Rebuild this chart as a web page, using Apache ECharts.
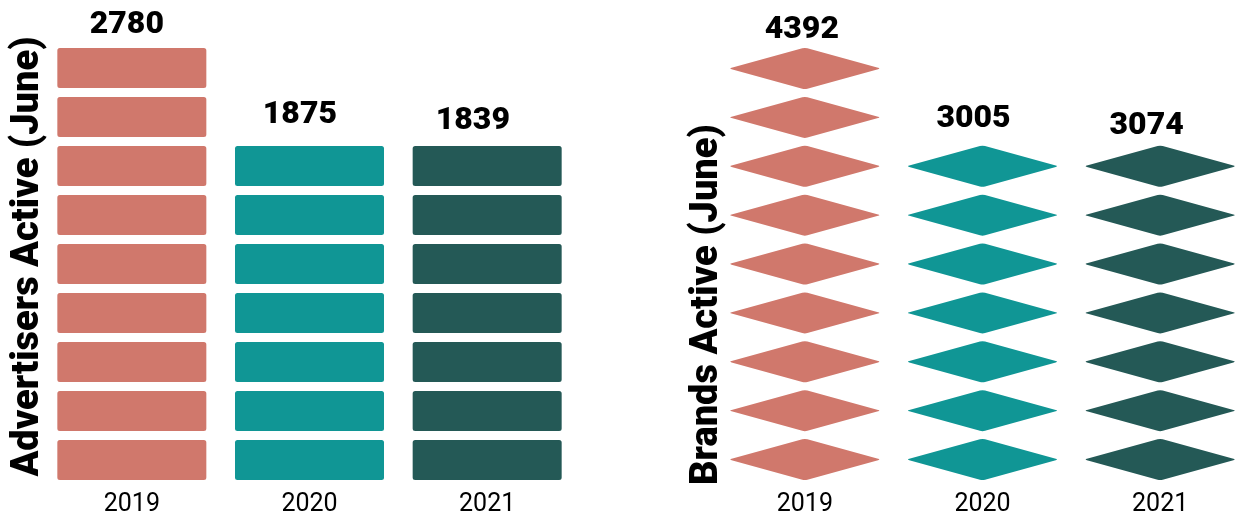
<!DOCTYPE html>
<html>
<head>
<meta charset="utf-8">
<script src="https://cdn.jsdelivr.net/npm/echarts@6/dist/echarts.min.js"></script>
<style>
  html, body { margin: 0; padding: 0; background: #fff; }
  #chart { width: 1238px; height: 515px; }
</style>
</head>
<body>
<div id="chart"></div>
<script>
// Yearly activity counts (June snapshots)
const years = ['2019', '2020', '2021'];
const advertisersActive = [2780, 1875, 1839];
const brandsActive = [4392, 3005, 3074];
const yearColors = ['#D0786C', '#109695', '#245956'];

// Layout of the two pictorial panels
const GRID_TOP = 48;
const GRID_H = 432;
const BAR_W = 149;
const SYMBOL_MARGIN = 5;
const BLOCK_H = 40;
const DIAMOND_H = 41;

const blockSymbol = 'path://M2.5,0H146.5A2.5,2.5 0 0 1 149,2.5V37.5A2.5,2.5 0 0 1 146.5,40H2.5A2.5,2.5 0 0 1 0,37.5V2.5A2.5,2.5 0 0 1 2.5,0Z';
const diamondSymbol = 'path://M72,0.7Q74.5,0 77,0.7L146.5,19.8Q149,20.5 146.5,21.2L77,40.3Q74.5,41 72,40.3L2.5,21.2Q0,20.5 2.5,19.8Z';

// Top edge (in data units) of the last repeated symbol a value reaches.
// pictorialBar spreads the repeated symbols evenly over the whole axis
// and then shows only those the value touches.
function stackTop(v, max, symH) {
  const rows = Math.ceil((GRID_H + 2 * SYMBOL_MARGIN) / (symH + 2 * SYMBOL_MARGIN) - 1e-4);
  const s = symH / GRID_H;
  const gap = (1 - rows * s) / (rows - 1);
  const unit = s + gap;
  const n = Math.ceil((v / max + gap) / unit - 1e-4);
  return (n * unit - gap) * max;
}

function pictorialSeries(idx, values, symbol, symH) {
  return {
    type: 'pictorialBar',
    xAxisIndex: idx,
    yAxisIndex: idx,
    barWidth: BAR_W,
    symbol: symbol,
    symbolRepeat: true,
    symbolPosition: 'start',
    symbolSize: [BAR_W, symH],
    symbolMargin: SYMBOL_MARGIN,
    silent: true,
    z: 2,
    data: values.map((v, i) => ({ value: v, itemStyle: { color: yearColors[i] } }))
  };
}

// Value labels sit just above each stack of symbols
function labelSeries(idx, values, symH, nudges) {
  const max = Math.max(...values);
  return {
    type: 'scatter',
    xAxisIndex: idx,
    yAxisIndex: idx,
    symbolSize: 0,
    silent: true,
    z: 3,
    itemStyle: { opacity: 1 },
    label: {
      show: true,
      position: 'top',
      distance: 0,
      color: '#000',
      opacity: 1,
      fontFamily: 'Roboto',
      fontWeight: 900,
      fontSize: 32,
      formatter: p => String(values[p.dataIndex])
    },
    data: values.map((v, i) => ({
      value: [i, stackTop(v, max, symH)],
      label: { offset: nudges[i] }
    }))
  };
}

function xAxisFor(idx) {
  return {
    type: 'category',
    gridIndex: idx,
    data: years,
    axisLine: { show: false },
    axisTick: { show: false },
    axisLabel: { color: '#000', fontFamily: 'Roboto', fontSize: 25, margin: 12 }
  };
}

function yAxisFor(idx, title, values, gap, shift) {
  return {
    type: 'value',
    gridIndex: idx,
    min: 0,
    max: Math.max(...values),
    axisLine: { show: false },
    axisTick: { show: false },
    axisLabel: { show: false },
    splitLine: { show: false },
    name: title,
    nameLocation: 'middle',
    nameGap: gap,
    nameTextStyle: {
      color: '#000',
      fontFamily: 'Roboto',
      fontWeight: 900,
      fontSize: 38,
      padding: shift
    }
  };
}

const chart = echarts.init(document.getElementById('chart'), null, { renderer: 'canvas' });
chart.setOption({
  animation: false,
  backgroundColor: '#fff',
  grid: [
    { left: 43, top: GRID_TOP, width: 533, height: GRID_H, outerBoundsMode: 'none' },
    { left: 716, top: GRID_TOP, width: 533, height: GRID_H, outerBoundsMode: 'none' }
  ],
  xAxis: [xAxisFor(0), xAxisFor(1)],
  yAxis: [
    yAxisFor(0, 'Advertisers Active (June)', advertisersActive, -4, [0, 0, 0, 15]),
    yAxisFor(1, 'Brands Active (June)', brandsActive, -10, [0, 81, 0, 0])
  ],
  series: [
    pictorialSeries(0, advertisersActive, blockSymbol, BLOCK_H),
    pictorialSeries(1, brandsActive, diamondSymbol, DIAMOND_H),
    labelSeries(0, advertisersActive, BLOCK_H, [[-5, -7], [-9.6, -15.5], [-14.3, -9]]),
    labelSeries(1, brandsActive, DIAMOND_H, [[-3, -2], [-9, -11], [-13.5, -4]])
  ]
});
</script>
</body>
</html>
